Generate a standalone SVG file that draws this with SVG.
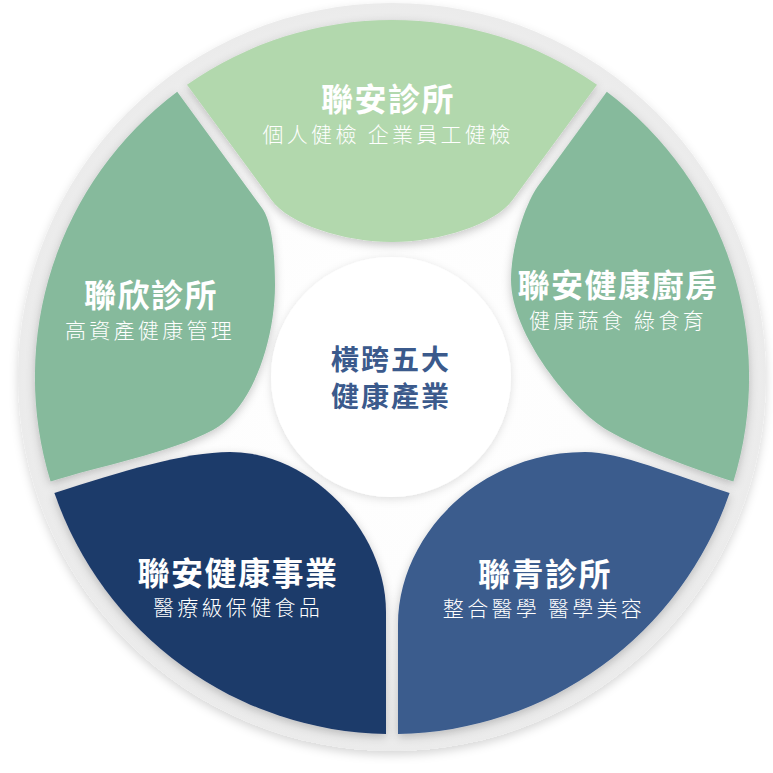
<svg xmlns="http://www.w3.org/2000/svg" width="773" height="773" viewBox="0 0 773 773">
  <defs>
    <style>
      text { font-family: "Noto Sans CJK TC", "Noto Sans CJK SC", sans-serif; text-anchor: middle; }
      .title { font-weight: 700; font-size: 32px; fill: #ffffff; letter-spacing: 1.5px; }
      .sub { font-weight: 300; font-size: 21px; fill: #ffffff; letter-spacing: 3.3px; }
      .center { font-weight: 700; font-size: 28px; fill: #3b5a8c; letter-spacing: 2px; }
      .petal { filter: url(#petalShadow); }
    </style>
    <radialGradient id="discFill" cx="392" cy="377" r="374" gradientUnits="userSpaceOnUse">
      <stop offset="0" stop-color="#ffffff"/>
      <stop offset="0.55" stop-color="#fdfdfd"/>
      <stop offset="0.9" stop-color="#efefef"/>
      <stop offset="1" stop-color="#ebebeb"/>
    </radialGradient>
    <filter id="discShadow" x="-10%" y="-10%" width="120%" height="125%">
      <feDropShadow dx="0" dy="4" stdDeviation="5" flood-color="#000000" flood-opacity="0.16"/>
    </filter>
    <filter id="petalShadow" x="-20%" y="-20%" width="140%" height="140%">
      <feDropShadow dx="0" dy="3" stdDeviation="5" flood-color="#000000" flood-opacity="0.22"/>
    </filter>
    <filter id="hubShadow" x="-20%" y="-20%" width="140%" height="140%">
      <feDropShadow dx="0" dy="2" stdDeviation="4" flood-color="#000000" flood-opacity="0.13"/>
    </filter>
  </defs>

  <rect width="773" height="773" fill="#ffffff"/>

  <g id="disc">
    <circle cx="392" cy="377" r="374" fill="url(#discFill)" filter="url(#discShadow)"/>
  </g>

  <g id="node-top">
    <path class="petal" fill="#b2d8ad" d="M 187,84.7 A 357 357 0 0 1 597,84.7 L 512.5,200 C 494.9,224.3 440,242 392,242 C 344,242 289.1,224.3 271.5,200 Z"/>
    <text><tspan class="title" x="388" y="111">聯安診所</tspan><tspan class="sub" x="388" y="142">個人健檢 企業員工健檢</tspan></text>
  </g>

  <g id="node-left">
    <path class="petal" fill="#86ba9c" d="M 177.2,91.7 L 262,208 C 273.8,224 275,265 275,285 C 275,340 252.6,408.9 213,430 C 169,453.5 98.2,466.1 50.6,481.6 A 357 357 0 0 1 177.2,91.7 Z"/>
    <text><tspan class="title" x="151" y="307">聯欣診所</tspan><tspan class="sub" x="150" y="338">高資產健康管理</tspan></text>
  </g>

  <g id="node-right">
    <path class="petal" fill="#86ba9c" d="M 606.8,91.7 L 538,186 C 526.2,202.2 511,245 511,280 C 511,335 572.4,410 607,430 C 641.6,450 695,469.6 733.4,481.6 A 357 357 0 0 0 606.8,91.7 Z"/>
    <text><tspan class="title" x="618" y="297">聯安健康廚房</tspan><tspan class="sub" x="618" y="328">健康蔬食 綠食育</tspan></text>
  </g>

  <g id="node-bottom-left">
    <path class="petal" fill="#1e3a6a" d="M 54.4,493 C 121,471.4 185,452 230,452 C 310,452 386,530 386,612 L 386,734 A 357 357 0 0 1 54.4,493 Z"/>
    <text><tspan class="title" x="238" y="585">聯安健康事業</tspan><tspan class="sub" x="238" y="615">醫療級保健食品</tspan></text>
  </g>

  <g id="node-bottom-right">
    <path class="petal" fill="#3a5b8d" d="M 729.6,493 C 672.5,474.5 620,452 585,452 C 480,452 398,535 398,625 L 398,734 A 357 357 0 0 0 729.6,493 Z"/>
    <text><tspan class="title" x="545" y="586">聯青診所</tspan><tspan class="sub" x="544" y="616">整合醫學 醫學美容</tspan></text>
  </g>

  <g id="node-center">
    <circle cx="391" cy="377" r="120" fill="#ffffff" filter="url(#hubShadow)"/>
    <text class="center"><tspan x="391" y="369.5">橫跨五大</tspan><tspan x="391" y="407">健康產業</tspan></text>
  </g>
</svg>
